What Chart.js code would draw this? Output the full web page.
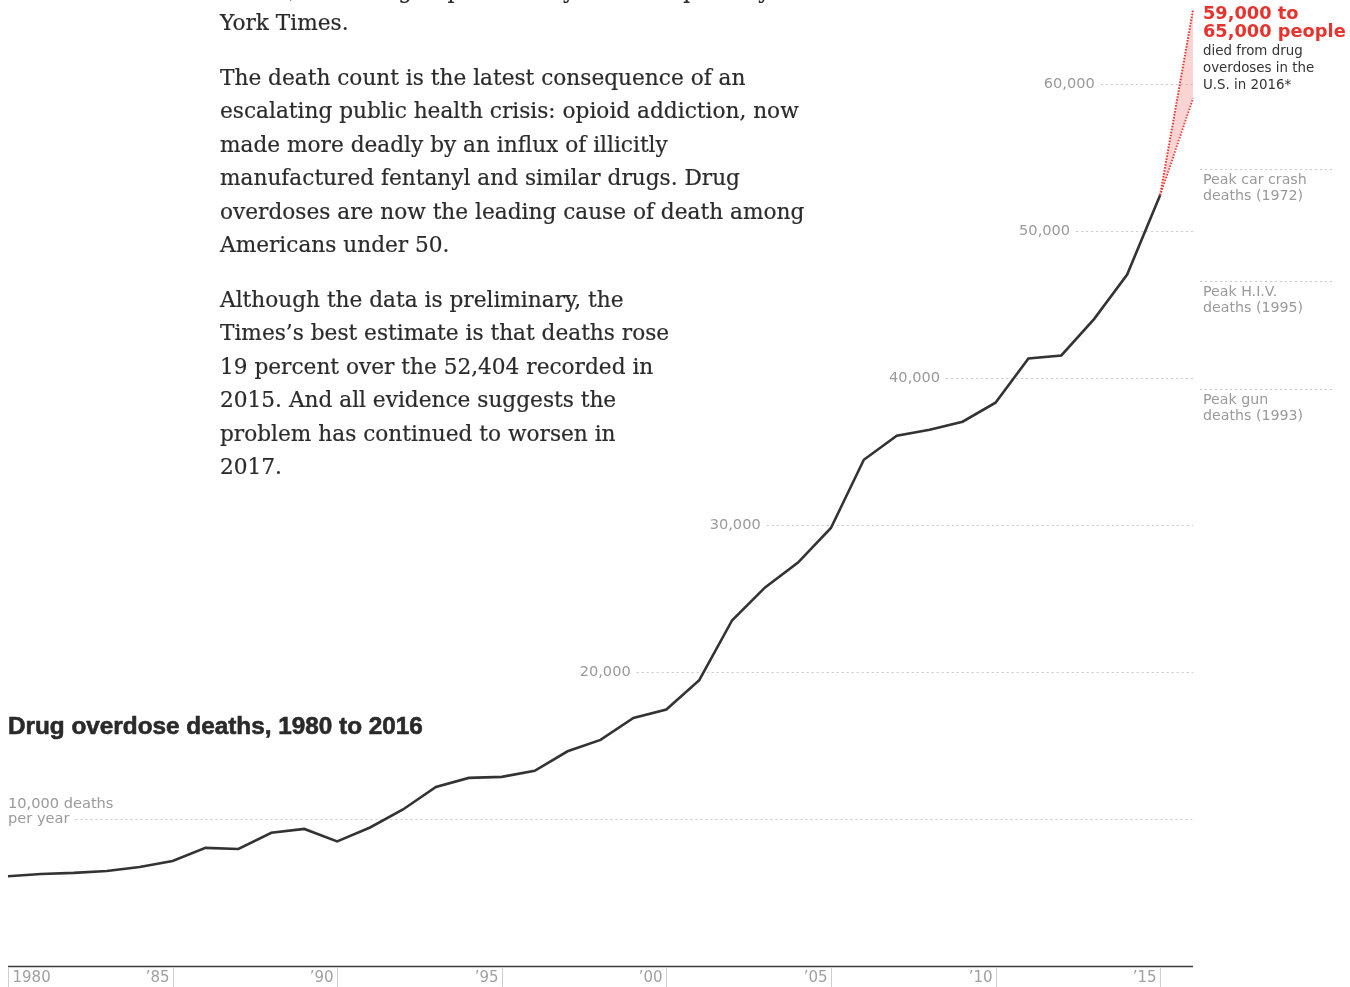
<!DOCTYPE html>
<html>
<head>
<meta charset="utf-8">
<title>Drug overdose deaths, 1980 to 2016</title>
<script src="https://cdn.jsdelivr.net/npm/chart.js@4.4.1/dist/chart.umd.min.js"></script>
<style>
  html, body { margin: 0; padding: 0; background: #fff; overflow: hidden; }
  #wrap { position: relative; width: 1350px; height: 987px; overflow: hidden; }
  #wrap canvas { position: absolute; left: 0; top: 0; }
  .prose {
    position: absolute; left: 220px; margin: 0;
    font-family: "DejaVu Serif", Georgia, serif; color: #2b2b2b;
    white-space: pre; line-height: 33.5px;
    -webkit-text-stroke: 0.2px #2b2b2b;
  }
  #title {
    position: absolute; left: 8px; margin: 0;
    font-family: "Liberation Sans", Arial, sans-serif; font-weight: bold;
    color: #2a2a2a; white-space: pre; line-height: 24px;
    -webkit-text-stroke: 0.6px #2a2a2a;
  }
</style>
</head>
<body>
<div id="wrap">
  <canvas id="chart" width="1350" height="987"></canvas>
  <p class="prose" id="p1">States, according to preliminary data compiled by The New
York Times.</p>
  <p class="prose" id="p2">The death count is the latest consequence of an
escalating public health crisis: opioid addiction, now
made more deadly by an influx of illicitly
manufactured fentanyl and similar drugs. Drug
overdoses are now the leading cause of death among
Americans under 50.</p>
  <p class="prose" id="p3">Although the data is preliminary, the
Times’s best estimate is that deaths rose
19 percent over the 52,404 recorded in
2015. And all evidence suggests the
problem has continued to worsen in
2017.</p>
  <h2 id="title">Drug overdose deaths, 1980 to 2016</h2>
</div>
<script>
// Annual drug overdose deaths in the U.S.
const years = [1980, 1981, 1982, 1983, 1984, 1985, 1986, 1987, 1988, 1989,
               1990, 1991, 1992, 1993, 1994, 1995, 1996, 1997, 1998, 1999,
               2000, 2001, 2002, 2003, 2004, 2005, 2006, 2007, 2008, 2009,
               2010, 2011, 2012, 2013, 2014, 2015];
const deaths = [6100, 6260, 6330, 6460, 6730, 7140, 8030, 7960, 9060, 9320,
                8470, 9420, 10640, 12170, 12790, 12860, 13270, 14600, 15370, 16860,
                17440, 19430, 23510, 25740, 27430, 29780, 34420, 36050, 36460, 37010,
                38300, 41300, 41510, 44000, 47010, 52404];

// 2016 estimate: a range from the last recorded year
const rangeYears = [2015, 2016];
const rangeLow = [52404, 59000];
const rangeHigh = [52404, 65000];

// Axis ticks
const yTicks = [10000, 20000, 30000, 40000, 50000, 60000];
const yTickLabels = ['10,000 deaths', '20,000', '30,000', '40,000', '50,000', '60,000'];
const xTicks = [1980, 1985, 1990, 1995, 2000, 2005, 2010, 2015];
const xTickLabels = ['1980', '’85', '’90', '’95', '’00', '’05', '’10', '’15'];

// Comparison levels shown to the right of the chart
const refValues = [54200, 46600, 39250];
const refLabels = [['Peak car crash', 'deaths (1972)'],
                   ['Peak H.I.V.', 'deaths (1995)'],
                   ['Peak gun', 'deaths (1993)']];

// Where each horizontal guide starts (in years), so its label sits beside the curve
const guideStartYear = [1982.05, 1999.1, 2003.05, 2008.5, 2012.45, 2013.2];

const SANS = '"DejaVu Sans", Verdana, sans-serif';
const RED = '#e8322d';

const decorations = {
  id: 'decorations',
  beforeDatasetsDraw(chart) {
    const { ctx, chartArea: ca, scales: { x, y } } = chart;
    ctx.save();

    // horizontal guides with their value labels
    ctx.lineWidth = 1;
    ctx.strokeStyle = '#c9c9c9';
    ctx.setLineDash([2, 3]);
    ctx.fillStyle = '#9a9a9a';
    ctx.textBaseline = 'middle';
    yTicks.forEach((v, i) => {
      const py = Math.round(y.getPixelForValue(v)) + 0.5;
      const sx = x.getPixelForValue(guideStartYear[i]);
      ctx.beginPath();
      ctx.moveTo(sx, py);
      ctx.lineTo(ca.right, py);
      ctx.stroke();
      ctx.font = '14.6px ' + SANS;
      if (i === 0) {
        ctx.textAlign = 'left';
        ctx.fillText(yTickLabels[i], ca.left, py - 15);
        ctx.fillText('per year', ca.left, py);
      } else {
        ctx.textAlign = 'right';
        ctx.fillText(yTickLabels[i], sx - 6, py);
      }
    });

    // comparison levels beyond the plot
    refValues.forEach((v, i) => {
      const py = Math.round(y.getPixelForValue(v)) + 0.5;
      ctx.beginPath();
      ctx.moveTo(ca.right + 7, py);
      ctx.lineTo(ca.right + 140, py);
      ctx.stroke();
      ctx.textAlign = 'left';
      ctx.font = '14.2px ' + SANS;
      ctx.fillText(refLabels[i][0], ca.right + 10, py + 11);
      ctx.fillText(refLabels[i][1], ca.right + 10, py + 27);
    });
    ctx.setLineDash([]);

    // x axis, tick marks and year labels
    ctx.strokeStyle = '#3a3a3a';
    ctx.lineWidth = 1.5;
    ctx.beginPath();
    ctx.moveTo(ca.left, ca.bottom + 0.5);
    ctx.lineTo(ca.right, ca.bottom + 0.5);
    ctx.stroke();
    ctx.strokeStyle = '#cfcfcf';
    ctx.lineWidth = 1;
    ctx.font = '15px ' + SANS;
    ctx.fillStyle = '#a0a0a0';
    xTicks.forEach((t, i) => {
      const px = Math.round(x.getPixelForValue(t)) + 0.5;
      ctx.beginPath();
      ctx.moveTo(px, ca.bottom + 1);
      ctx.lineTo(px, chart.height);
      ctx.stroke();
      if (i === 0) {
        ctx.textAlign = 'left';
        ctx.fillText(xTickLabels[i], px + 4, ca.bottom + 12);
      } else {
        ctx.textAlign = 'right';
        ctx.fillText(xTickLabels[i], px - 4, ca.bottom + 12);
      }
    });
    ctx.restore();
  },
  afterDatasetsDraw(chart) {
    const { ctx, chartArea: ca } = chart;
    ctx.save();
    ctx.textAlign = 'left';
    ctx.textBaseline = 'middle';
    const ax = ca.right + 10;
    ctx.fillStyle = RED;
    ctx.font = 'bold 17.8px ' + SANS;
    ctx.fillText('59,000 to', ax, 14.5);
    ctx.fillText('65,000 people', ax, 32.5);
    ctx.fillStyle = '#333';
    ctx.font = '13.4px ' + SANS;
    ctx.fillText('died from drug', ax, 51.5);
    ctx.fillText('overdoses in the', ax, 68.5);
    ctx.fillText('U.S. in 2016*', ax, 85.5);
    ctx.restore();
  }
};

const toPoints = (xs, ys) => xs.map((v, i) => ({ x: v, y: ys[i] }));

new Chart(document.getElementById('chart'), {
  type: 'line',
  data: {
    datasets: [
      {
        label: 'Deaths',
        data: toPoints(years, deaths),
        borderColor: '#333',
        borderWidth: 2.6,
        pointRadius: 0,
        tension: 0,
        fill: false,
        clip: false,
        order: 0
      },
      {
        label: 'High estimate',
        data: toPoints(rangeYears, rangeHigh),
        borderColor: RED,
        borderWidth: 2,
        borderDash: [1.5, 1.5],
        pointRadius: 0,
        fill: '+1',
        backgroundColor: 'rgba(244, 150, 150, 0.42)',
        clip: false,
        order: 1
      },
      {
        label: 'Low estimate',
        data: toPoints(rangeYears, rangeLow),
        borderColor: RED,
        borderWidth: 2,
        borderDash: [1.5, 1.5],
        pointRadius: 0,
        fill: false,
        clip: false,
        order: 1
      }
    ]
  },
  options: {
    responsive: false,
    devicePixelRatio: 1,
    animation: false,
    layout: { padding: { left: 8, right: 157, top: 10, bottom: 21 } },
    plugins: { legend: { display: false }, tooltip: { enabled: false } },
    scales: {
      x: { type: 'linear', min: 1980, max: 2016, display: false },
      y: { min: 0, max: 65000, display: false }
    }
  },
  plugins: [decorations]
});

// Size the prose and heading type, then set each block so its first baseline lands where wanted
(function setType() {
  const c = document.createElement('canvas').getContext('2d');
  function fit(family, weight, text, target) {
    c.font = weight + ' 20px ' + family;
    return 20 * target / c.measureText(text).width;
  }
  function place(el, family, weight, size, lineH, baseline) {
    c.font = weight + ' ' + size + 'px ' + family;
    const m = c.measureText('Hg');
    const asc = m.fontBoundingBoxAscent, desc = m.fontBoundingBoxDescent;
    const off = (lineH - (asc + desc)) / 2 + asc;
    el.style.fontSize = size + 'px';
    el.style.lineHeight = lineH + 'px';
    el.style.top = (baseline - off) + 'px';
  }
  const serif = '"DejaVu Serif"';
  const ps = fit(serif, 'normal', 'The death count is the latest consequence of an', 526);
  place(document.getElementById('p1'), serif, 'normal', ps, 32, 30 - 32);
  place(document.getElementById('p2'), serif, 'normal', ps, 33.5, 85);
  place(document.getElementById('p3'), serif, 'normal', ps, 33.5, 307);
  const sans = '"Liberation Sans"';
  const ts = fit(sans, 'bold', 'Drug overdose deaths, 1980 to 2016', 415);
  place(document.getElementById('title'), sans, 'bold', ts, 24, 734);
})();
</script>
</body>
</html>
